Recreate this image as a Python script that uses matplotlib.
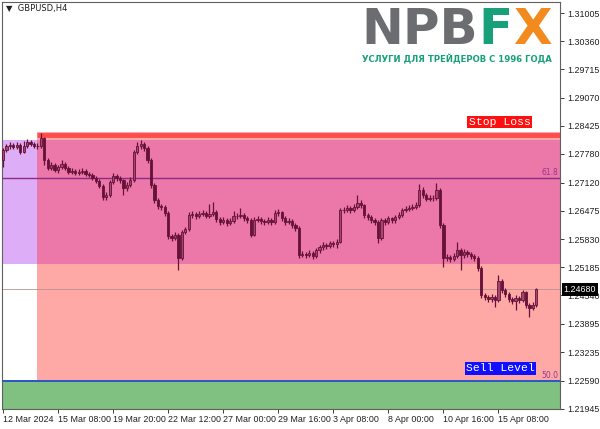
import numpy as np
import matplotlib
matplotlib.use("Agg")
import matplotlib.pyplot as plt

# GBPUSD H4, 156 candles (12 Mar 16:00 .. 16 Apr)
opens = [1.2764, 1.2787, 1.2796, 1.2799, 1.2794, 1.2799, 1.2783, 1.2796, 1.2805, 1.2801,
         1.2796, 1.2796, 1.2815, 1.2764, 1.2746, 1.2753, 1.2741, 1.2748, 1.2755, 1.2746,
         1.2737, 1.2739, 1.2734, 1.2737, 1.2739, 1.2732, 1.2730, 1.2723, 1.2716, 1.2705,
         1.2680, 1.2684, 1.2714, 1.2728, 1.2723, 1.2718, 1.2700, 1.2707, 1.2718, 1.2783,
         1.2796, 1.2801, 1.2792, 1.2764, 1.2707, 1.2673, 1.2659, 1.2657, 1.2643, 1.2590,
         1.2586, 1.2593, 1.2540, 1.2600, 1.2606, 1.2638, 1.2641, 1.2636, 1.2641, 1.2643,
         1.2636, 1.2641, 1.2645, 1.2629, 1.2622, 1.2627, 1.2620, 1.2625, 1.2636, 1.2636,
         1.2638, 1.2631, 1.2627, 1.2593, 1.2627, 1.2629, 1.2625, 1.2622, 1.2627, 1.2622,
         1.2643, 1.2645, 1.2631, 1.2622, 1.2625, 1.2616, 1.2609, 1.2547, 1.2549, 1.2547,
         1.2551, 1.2545, 1.2558, 1.2565, 1.2570, 1.2567, 1.2574, 1.2572, 1.2577, 1.2650,
         1.2650, 1.2654, 1.2650, 1.2657, 1.2666, 1.2661, 1.2638, 1.2634, 1.2627, 1.2622,
         1.2586, 1.2627, 1.2622, 1.2631, 1.2627, 1.2634, 1.2638, 1.2650, 1.2652, 1.2654,
         1.2657, 1.2661, 1.2696, 1.2684, 1.2675, 1.2677, 1.2677, 1.2696, 1.2616, 1.2540,
         1.2542, 1.2538, 1.2545, 1.2558, 1.2547, 1.2554, 1.2549, 1.2545, 1.2540, 1.2517,
         1.2455, 1.2451, 1.2446, 1.2451, 1.2444, 1.2487, 1.2467, 1.2458, 1.2446, 1.2442,
         1.2448, 1.2444, 1.2462, 1.2432, 1.2426, 1.2432]
highs = [1.2792, 1.2801, 1.2805, 1.2803, 1.2806, 1.2803, 1.2808, 1.2812, 1.2810, 1.2806,
         1.2803, 1.2826, 1.2818, 1.2768, 1.2759, 1.2757, 1.2753, 1.2764, 1.2759, 1.2750,
         1.2746, 1.2744, 1.2744, 1.2746, 1.2743, 1.2737, 1.2734, 1.2728, 1.2720, 1.2709,
         1.2691, 1.2718, 1.2734, 1.2732, 1.2728, 1.2721, 1.2714, 1.2725, 1.2787, 1.2805,
         1.2810, 1.2806, 1.2796, 1.2768, 1.2712, 1.2677, 1.2664, 1.2661, 1.2648, 1.2595,
         1.2600, 1.2597, 1.2604, 1.2611, 1.2645, 1.2648, 1.2645, 1.2648, 1.2650, 1.2648,
         1.2664, 1.2668, 1.2650, 1.2634, 1.2634, 1.2631, 1.2631, 1.2648, 1.2643, 1.2654,
         1.2643, 1.2636, 1.2631, 1.2634, 1.2636, 1.2634, 1.2629, 1.2634, 1.2631, 1.2650,
         1.2652, 1.2648, 1.2636, 1.2631, 1.2629, 1.2620, 1.2613, 1.2556, 1.2554, 1.2558,
         1.2556, 1.2563, 1.2570, 1.2577, 1.2574, 1.2579, 1.2579, 1.2584, 1.2654, 1.2657,
         1.2661, 1.2659, 1.2664, 1.2684, 1.2673, 1.2664, 1.2643, 1.2638, 1.2631, 1.2627,
         1.2631, 1.2631, 1.2636, 1.2634, 1.2638, 1.2645, 1.2654, 1.2659, 1.2661, 1.2664,
         1.2668, 1.2709, 1.2702, 1.2689, 1.2684, 1.2684, 1.2712, 1.2700, 1.2620, 1.2549,
         1.2547, 1.2551, 1.2577, 1.2563, 1.2560, 1.2558, 1.2554, 1.2549, 1.2545, 1.2522,
         1.2460, 1.2456, 1.2458, 1.2456, 1.2501, 1.2492, 1.2472, 1.2462, 1.2451, 1.2455,
         1.2453, 1.2467, 1.2465, 1.2437, 1.2440, 1.2472]
lows = [1.2748, 1.2783, 1.2790, 1.2789, 1.2790, 1.2779, 1.2781, 1.2792, 1.2796, 1.2792,
        1.2790, 1.2792, 1.2753, 1.2741, 1.2741, 1.2737, 1.2734, 1.2744, 1.2741, 1.2732,
        1.2732, 1.2730, 1.2730, 1.2732, 1.2728, 1.2725, 1.2718, 1.2712, 1.2700, 1.2673,
        1.2673, 1.2680, 1.2709, 1.2716, 1.2712, 1.2684, 1.2693, 1.2702, 1.2714, 1.2778,
        1.2790, 1.2785, 1.2757, 1.2700, 1.2666, 1.2652, 1.2650, 1.2636, 1.2584, 1.2579,
        1.2581, 1.2513, 1.2535, 1.2595, 1.2602, 1.2632, 1.2629, 1.2632, 1.2636, 1.2631,
        1.2632, 1.2636, 1.2622, 1.2616, 1.2618, 1.2613, 1.2616, 1.2620, 1.2629, 1.2631,
        1.2625, 1.2620, 1.2588, 1.2590, 1.2622, 1.2618, 1.2616, 1.2618, 1.2616, 1.2618,
        1.2636, 1.2625, 1.2616, 1.2618, 1.2609, 1.2602, 1.2540, 1.2542, 1.2540, 1.2542,
        1.2538, 1.2540, 1.2551, 1.2558, 1.2560, 1.2563, 1.2565, 1.2563, 1.2574, 1.2643,
        1.2645, 1.2643, 1.2645, 1.2652, 1.2654, 1.2631, 1.2627, 1.2620, 1.2616, 1.2574,
        1.2581, 1.2616, 1.2618, 1.2620, 1.2620, 1.2629, 1.2634, 1.2645, 1.2648, 1.2650,
        1.2652, 1.2657, 1.2677, 1.2670, 1.2670, 1.2670, 1.2673, 1.2609, 1.2519, 1.2533,
        1.2531, 1.2533, 1.2540, 1.2513, 1.2540, 1.2542, 1.2538, 1.2533, 1.2510, 1.2448,
        1.2444, 1.2440, 1.2440, 1.2428, 1.2440, 1.2460, 1.2451, 1.2440, 1.2435, 1.2421,
        1.2437, 1.2440, 1.2426, 1.2405, 1.2421, 1.2428]
closes = opens[1:] + [1.2468]

tick_bars = [0, 16, 32, 48, 64, 80, 96, 112, 128, 144]
tick_names = ["12 Mar 2024", "15 Mar 08:00", "19 Mar 20:00", "22 Mar 12:00",
              "27 Mar 00:00", "29 Mar 16:00", "3 Apr 08:00", "8 Apr 00:00",
              "10 Apr 16:00", "15 Apr 08:00"]
price_ticks = [1.31005, 1.30360, 1.29715, 1.29070, 1.28425, 1.27780, 1.27120, 1.26475,
               1.25830, 1.25185, 1.24540, 1.23895, 1.23235, 1.22590, 1.21945]

stop_loss = 1.2822
sell_level = 1.2259
fib_618 = 1.2724
zone_top, zone_bottom = 1.2810, 1.2526
box_top = 1.2828
last_price = 1.24680

W, H = 600, 429
fig = plt.figure(figsize=(6, 4.29), dpi=100)
ax = fig.add_axes([2 / W, 1 - 409 / H, 558 / W, 407 / H])
x0, x1 = -0.3, 161.9
y0, y1 = 1.2194, 1.3126
ax.set_xlim(x0, x1)
ax.set_ylim(y0, y1)
zstart = 9.9

# zones
ax.fill_between([zstart, x1], sell_level, box_top, color="#ffa9a6", lw=0, zorder=1)
ax.fill_between([zstart, x1], zone_bottom, zone_top, color="#eb78a9", lw=0, zorder=1)
ax.fill_between([x0, zstart], zone_bottom, zone_top, color="#ddaef7", lw=0, zorder=1)
ax.fill_between([x0, x1], y0, sell_level, color="#80c080", lw=0, zorder=1)
ax.hlines(stop_loss, zstart, x1, color="#ff4d4d", lw=3.5, zorder=2)
ax.hlines(sell_level, x0, x1, color="#2a55c8", lw=1.4, zorder=3)
ax.hlines(fib_618, x0, x1, color="#8e2a86", lw=1.0, zorder=3)
ax.hlines(last_price, x0, x1, color="#b89090", lw=0.6, zorder=2)

# candles
idx = np.arange(len(closes))
o = np.array(opens)
c = np.array(closes)
ax.vlines(idx, lows, highs, color="#661238", lw=0.9, zorder=4)
bull = c >= o
body_lo = np.minimum(o, c)
body_h = np.maximum(np.abs(c - o), 0.00008)
ax.bar(idx[bull], body_h[bull], bottom=body_lo[bull], width=0.66,
       color="#a8456f", edgecolor="#661238", linewidth=0.6, zorder=5)
ax.bar(idx[~bull], body_h[~bull], bottom=body_lo[~bull], width=0.66,
       color="#661238", edgecolor="#661238", linewidth=0.6, zorder=5)

# level labels
ax.text(x1 - 0.6, fib_618 + 0.0002, "61.8", color="#9a3590", fontsize=5.5,
        ha="right", va="bottom", zorder=6)
ax.text(x1 - 0.6, sell_level + 0.0002, "50.0", color="#9a3590", fontsize=5.5,
        ha="right", va="bottom", zorder=6)
ax.text(144.3, 1.2851, "Stop Loss", color="white", fontsize=8.2, family="Liberation Mono",
        ha="center", va="center", zorder=6,
        bbox=dict(boxstyle="square,pad=0.12", fc="#ff1010", ec="none"))
ax.text(144.6, 1.2287, "Sell Level", color="white", fontsize=8.2, family="Liberation Mono",
        ha="center", va="center", zorder=6,
        bbox=dict(boxstyle="square,pad=0.12", fc="#1010ff", ec="none"))

# axes styling
for s in ax.spines.values():
    s.set_color("#606060")
    s.set_linewidth(0.8)
ax.yaxis.tick_right()
ax.set_yticks(price_ticks)
ax.set_yticklabels([f"{p:.5f}" for p in price_ticks])
ax.set_xticks(tick_bars)
ax.set_xticklabels(tick_names, ha="left")
ax.tick_params(axis="both", labelsize=6.4, colors="#202020", length=3, width=0.6, pad=1.5)
ax.tick_params(axis="y", pad=2)
for lab in ax.get_xticklabels() + ax.get_yticklabels():
    lab.set_family("Liberation Sans")

# current price tag
ax.text(1.006, (last_price - y0) / (y1 - y0), f"{last_price:.5f}", transform=ax.transAxes,
        color="white", fontsize=6.4, family="Liberation Sans", ha="left", va="center",
        zorder=10, clip_on=False,
        bbox=dict(boxstyle="square,pad=0.2", fc="black", ec="none"))

# title
fig.text(6 / W, 1 - 9 / H, "\u25bc  GBPUSD,H4", fontsize=6, color="#202020", va="center")

# logo
fig.text(361 / W, 1 - 30 / H, "NPB", fontsize=36, fontweight="heavy", color="#6c6d70",
         va="center", ha="left")
fig.text(478 / W, 1 - 30 / H, "F", fontsize=36, fontweight="heavy", color="#17a07a",
         va="center", ha="left")
fig.text(513 / W, 1 - 30 / H, "X", fontsize=36, fontweight="heavy", color="#f28a1e",
         va="center", ha="left")
fig.text(457 / W, 1 - 59 / H, "УСЛУГИ ДЛЯ ТРЕЙДЕРОВ С 1996 ГОДА", fontsize=6.1,
         fontweight="bold", color="#17a07a", va="center", ha="center")

fig.savefig("out.png", dpi=100)
